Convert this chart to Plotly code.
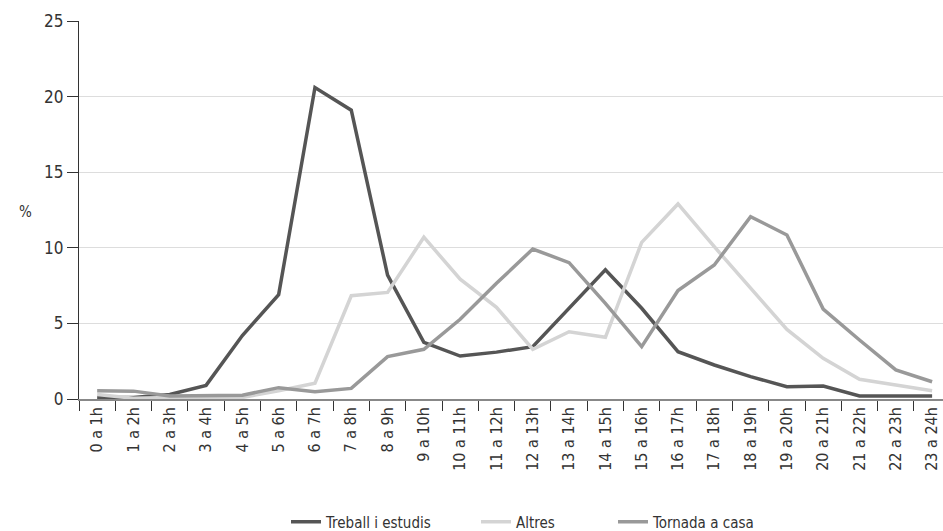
import plotly.graph_objects as go

categories = ["0 a 1h", "1 a 2h", "2 a 3h", "3 a 4h", "4 a 5h", "5 a 6h", "6 a 7h", "7 a 8h",
              "8 a 9h", "9 a 10h", "10 a 11h", "11 a 12h", "12 a 13h", "13 a 14h", "14 a 15h",
              "15 a 16h", "16 a 17h", "17 a 18h", "18 a 19h", "19 a 20h", "20 a 21h", "21 a 22h",
              "22 a 23h", "23 a 24h"]

treball = [0.1, 0.1, 0.3, 0.9, 4.2, 6.9, 20.6, 19.1, 8.2, 3.75, 2.84, 3.1, 3.46, 6.0, 8.55,
           6.0, 3.13, 2.25, 1.48, 0.81, 0.86, 0.2, 0.2, 0.2]
altres = [0.3, 0.05, 0.1, 0.1, 0.1, 0.55, 1.04, 6.83, 7.05, 10.7, 7.92, 6.06, 3.29, 4.45, 4.08,
          10.36, 12.9, 10.07, 7.3, 4.6, 2.69, 1.3, 0.93, 0.55]
tornada = [0.55, 0.52, 0.2, 0.2, 0.25, 0.75, 0.48, 0.7, 2.8, 3.29, 5.27, 7.65, 9.92, 9.02, 6.33,
           3.46, 7.17, 8.86, 12.06, 10.85, 5.95, 3.9, 1.92, 1.14]

series = [("Treball i estudis", treball, "#555555"),
          ("Altres", altres, "#d4d4d4"),
          ("Tornada a casa", tornada, "#999999")]

FONT = "DejaVu Sans Condensed, DejaVu Sans, sans-serif"
TXT = "#333333"

W, H = 943, 531
L, R, T, B = 79, 0, 21, 132
pw, ph = W - L - R, H - T - B

def px_x(x):
    return (x - L) / pw

def px_y(y):
    return (H - B - y) / ph

legend_left_px = [286, 476, 613]
legend_names = ["legend", "legend2", "legend3"]

fig = go.Figure()
for (name, vals, col), lg in zip(series, legend_names):
    fig.add_trace(go.Scatter(x=categories, y=vals, name=name, mode="lines",
                             line=dict(color=col, width=3.5), legend=lg))

layout_legends = {}
for lg, lx in zip(legend_names, legend_left_px):
    layout_legends[lg] = dict(x=px_x(lx), xanchor="left", y=px_y(522), yanchor="middle",
                              orientation="h", font=dict(family=FONT, size=15, color=TXT),
                              bgcolor="rgba(0,0,0,0)")

fig.update_layout(
    width=W, height=H,
    margin=dict(l=L, r=R, t=T, b=B, autoexpand=False),
    plot_bgcolor="white", paper_bgcolor="white",
    font=dict(family=FONT, size=14, color=TXT),
    showlegend=True,
    annotations=[dict(text="%", x=px_x(17), y=px_y(212), xref="paper", yref="paper",
                      showarrow=False, font=dict(size=15, color=TXT))],
    **layout_legends,
)
fig.update_xaxes(type="category", range=[-0.5, 23.3], tickson="boundaries",
                 ticks="outside", ticklen=10, tickcolor=TXT, automargin=False,
                 showline=True, linecolor="#888888", linewidth=1.5,
                 showgrid=False, tickangle=-90, tickfont=dict(size=16, color=TXT))
fig.update_yaxes(range=[0, 25], dtick=5, ticks="outside", ticklen=11, tickcolor=TXT,
                 automargin=False,
                 showline=True, linecolor=TXT, linewidth=1.2,
                 showgrid=True, gridcolor="#dddddd", gridwidth=1.2, zeroline=False,
                 tickfont=dict(size=17, color=TXT))

fig.write_html("out.html", config={"displayModeBar": False},
               post_script="document.body.style.margin='0';document.body.style.overflow='hidden';")
